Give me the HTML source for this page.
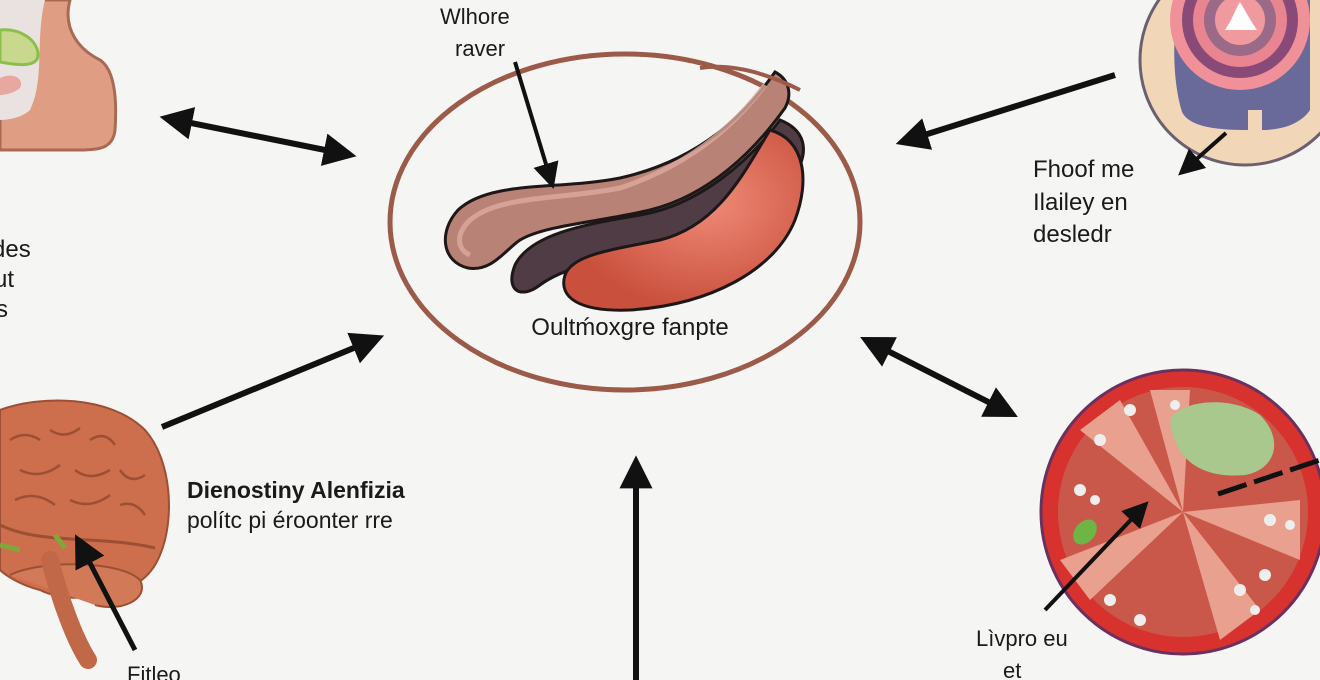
<!DOCTYPE html>
<html><head><meta charset="utf-8"><style>
html,body{margin:0;padding:0;background:#f5f5f4;}
svg{display:block}
text{font-family:"Liberation Sans",sans-serif;fill:#1a1a1a}
</style></head><body>
<svg width="1320" height="680" viewBox="0 0 1320 680" xmlns="http://www.w3.org/2000/svg">
<defs>
<marker id="ah" viewBox="0 0 10 10" refX="8" refY="5" markerWidth="5.5" markerHeight="5.5" orient="auto-start-reverse"><path d="M0,0 L10,5 L0,10 z" fill="#111"/></marker>
<marker id="ahs" viewBox="0 0 10 10" refX="8" refY="5" markerWidth="6.5" markerHeight="6.5" orient="auto-start-reverse"><path d="M0,0 L10,5 L0,10 z" fill="#111"/></marker>
<radialGradient id="sg" cx="0.6" cy="0.4" r="0.6"><stop offset="0" stop-color="#ef8a78"/><stop offset="1" stop-color="#c9503c"/></radialGradient>
</defs>
<rect width="1320" height="680" fill="#f5f5f4"/>

<!-- nose top-left -->
<path d="M0,0 L70,0 C62,30 80,50 100,60 C115,70 117,100 115,130 C113,148 100,150 80,150 L0,150 Z" fill="#df9d83" stroke="#a86a55" stroke-width="3"/>
<path d="M0,0 L45,0 C35,40 45,80 30,110 C20,120 0,120 0,120Z" fill="#e9e2e1"/>
<path d="M0,30 C20,28 38,40 38,55 C38,68 15,65 0,62Z" fill="#c8d98e" stroke="#8cbf4a" stroke-width="3"/>
<path d="M0,78 C12,72 25,78 20,88 C12,95 0,95 0,95Z" fill="#e7a8a2"/>

<line x1="166" y1="118" x2="350" y2="155" stroke="#111" stroke-width="6" marker-start="url(#ah)" marker-end="url(#ah)"/>

<!-- central ellipse -->
<ellipse cx="625" cy="222" rx="235" ry="168" fill="none" stroke="#9b5b48" stroke-width="5"/>
<!-- stomach: dark band -->
<path d="M780,120 C805,130 810,150 795,175 C770,220 720,250 650,255 C600,258 560,270 540,285 C520,300 505,290 515,265 C530,235 580,225 640,215 C700,205 750,160 780,120Z" fill="#4f3c44" stroke="#1e1718" stroke-width="3"/>
<!-- tube -->
<path d="M775,72 C745,115 700,160 620,178 C560,190 490,180 458,210 C438,232 442,262 468,268 C492,272 505,250 520,240 C545,225 600,222 650,210 C710,195 755,150 785,108 C792,95 790,80 775,72Z" fill="#b98276" stroke="#1e1718" stroke-width="3"/>
<path d="M765,85 C735,125 690,165 620,188 C560,200 495,195 468,222 C455,236 458,250 470,255" fill="none" stroke="#dcaa9e" stroke-width="5" opacity="0.8"/>
<!-- red bean -->
<path d="M770,130 C805,140 810,180 795,220 C775,270 710,305 630,310 C580,312 558,298 565,275 C572,255 610,250 660,240 C720,225 745,170 770,130Z" fill="url(#sg)" stroke="#1e1718" stroke-width="3"/>
<path d="M700,68 C740,62 780,80 800,90" fill="none" stroke="#9b5b48" stroke-width="4"/>
<text x="440" y="24" font-size="22">Wlhore</text>
<text x="455" y="56" font-size="22">raver</text>
<line x1="515" y1="62" x2="552" y2="184" stroke="#111" stroke-width="4" marker-end="url(#ahs)"/>
<text x="630" y="335" font-size="24" text-anchor="middle">Oultḿoxgre fanpte</text>

<!-- top-right circle -->
<circle cx="1245" cy="60" r="105" fill="#f2d6b8" stroke="#6b6070" stroke-width="3"/>
<path d="M1180,0 L1310,0 L1310,110 C1300,125 1280,130 1262,130 L1262,110 L1248,110 L1248,130 C1220,130 1190,128 1182,112 C1172,80 1172,30 1180,0Z" fill="#6a6a9a"/>
<circle cx="1240" cy="20" r="70" fill="#f09098"/>
<circle cx="1240" cy="20" r="58" fill="#8a4a78"/>
<circle cx="1240" cy="20" r="47" fill="#e88590"/>
<circle cx="1240" cy="20" r="36" fill="#9a6a88"/>
<circle cx="1240" cy="20" r="25" fill="#f09aa0"/>
<path d="M1225,30 C1232,20 1235,10 1240,2 C1245,10 1250,20 1257,30 Z" fill="#fff"/>
<line x1="1115" y1="75" x2="902" y2="142" stroke="#111" stroke-width="6" marker-end="url(#ah)"/>
<line x1="1226" y1="133" x2="1182" y2="172" stroke="#111" stroke-width="4" marker-end="url(#ahs)"/>
<text x="1033" y="177" font-size="24">Fhoof me</text>
<text x="1033" y="210" font-size="24">Ilailey en</text>
<text x="1033" y="242" font-size="24">desledr</text>

<text x="-8" y="257" font-size="24">des</text>
<text x="-6" y="287" font-size="24">ut</text>
<text x="-4" y="317" font-size="24">s</text>

<line x1="162" y1="427" x2="378" y2="338" stroke="#111" stroke-width="6" marker-end="url(#ah)"/>

<!-- brain -->
<path d="M0,410 C40,395 110,395 145,430 C172,460 175,520 160,555 C150,580 130,590 110,592 C90,600 60,600 40,590 C20,585 5,575 0,570 Z" fill="#cd6e4c" stroke="#9c4f35" stroke-width="2"/>
<path d="M10,575 C40,560 120,560 140,580 C150,600 120,612 95,605" fill="#d27a58" stroke="#9c4f35" stroke-width="2"/>
<path d="M50,560 C60,600 75,640 88,660" fill="none" stroke="#c06848" stroke-width="18" stroke-linecap="round"/>
<path d="M0,525 C40,545 100,535 155,548" fill="none" stroke="#9c4f35" stroke-width="3"/>
<path d="M10,440 q15,-10 30,0 M50,430 q15,10 30,-2 M90,440 q15,-10 25,5 M20,470 q20,10 40,-5 M75,470 q15,12 35,0 M120,470 q10,15 25,5 M15,500 q20,-10 40,5 M70,500 q20,10 40,-5 M120,505 q15,-5 25,10" fill="none" stroke="#9c4f35" stroke-width="2.5"/>
<path d="M0,545 L20,550 M55,535 L65,548" stroke="#7fa83a" stroke-width="5"/>
<line x1="135" y1="650" x2="78" y2="540" stroke="#111" stroke-width="5" marker-end="url(#ahs)"/>
<text x="127" y="682" font-size="22">Fitleo</text>
<text x="187" y="498" font-size="23" font-weight="bold">Dienostiny Alenfizia</text>
<text x="187" y="528" font-size="23">polítc pi éroonter rre</text>

<line x1="636" y1="680" x2="636" y2="462" stroke="#111" stroke-width="6" marker-end="url(#ah)"/>

<line x1="866" y1="340" x2="1012" y2="414" stroke="#111" stroke-width="6" marker-start="url(#ah)" marker-end="url(#ah)"/>

<!-- tomato -->
<circle cx="1183" cy="512" r="142" fill="#d8322e" stroke="#6a3060" stroke-width="3"/>
<circle cx="1183" cy="512" r="125" fill="#c9584a"/>
<path d="M1183,512 L1120,400 L1080,430Z M1183,512 L1060,560 L1090,600Z M1183,512 L1220,640 L1260,610Z M1183,512 L1300,560 L1300,500Z M1183,512 L1150,390 L1190,390Z" fill="#e9a08e"/>
<path d="M1170,420 C1180,400 1230,395 1260,415 C1285,440 1275,470 1245,475 C1215,478 1175,470 1170,420Z" fill="#a8c88e"/>
<g fill="#eee">
<circle cx="1100" cy="440" r="6"/><circle cx="1130" cy="410" r="6"/><circle cx="1080" cy="490" r="6"/><circle cx="1095" cy="500" r="5"/><circle cx="1110" cy="600" r="6"/><circle cx="1140" cy="620" r="6"/><circle cx="1240" cy="590" r="6"/><circle cx="1265" cy="575" r="6"/><circle cx="1270" cy="520" r="6"/><circle cx="1290" cy="525" r="5"/><circle cx="1175" cy="405" r="5"/><circle cx="1255" cy="610" r="5"/>
</g>
<ellipse cx="1085" cy="532" rx="10" ry="14" fill="#6db544" transform="rotate(40 1085 532)"/>
<line x1="1218" y1="494" x2="1320" y2="460" stroke="#111" stroke-width="5" stroke-dasharray="30,8"/>
<line x1="1045" y1="610" x2="1145" y2="505" stroke="#111" stroke-width="4" marker-end="url(#ahs)"/>
<text x="976" y="646" font-size="22">Lìvpro eu</text>
<text x="1003" y="678" font-size="22">et</text>
</svg>
</body></html>
